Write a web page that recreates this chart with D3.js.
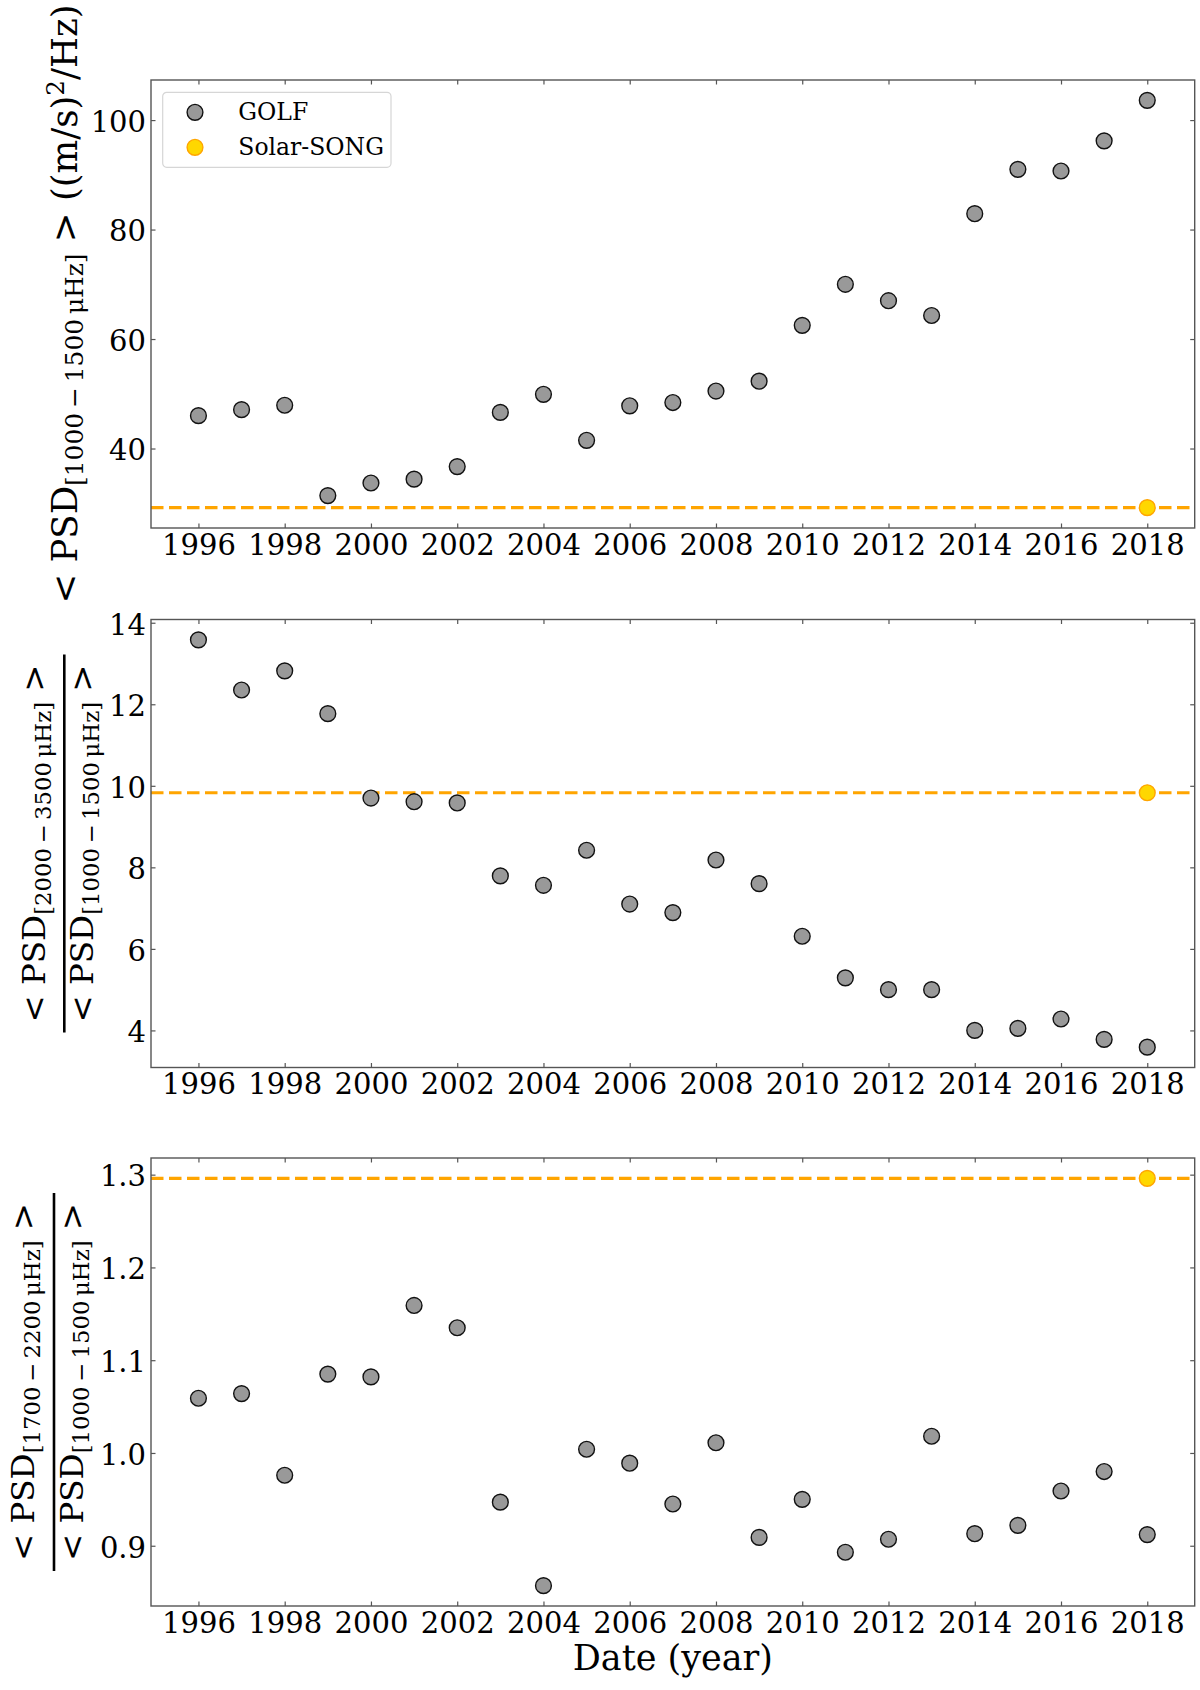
<html>
  <head>
    <meta charset="utf-8">
    <title>GOLF / Solar-SONG PSD</title>
    <script src="https://cdn.jsdelivr.net/npm/d3@7"></script>
  </head>
<style>
  body { margin: 0; background: #fff; }
  text { font-family: "DejaVu Serif", serif; fill: #000; }
  .sans { font-family: "DejaVu Sans", sans-serif; }
</style>
<body>
<div id="fig"></div>
<script>
  // years of the GOLF points
  var years = [1996, 1997, 1998, 1999, 2000, 2001, 2002, 2003, 2004, 2005, 2006, 2007,
               2008, 2009, 2010, 2011, 2012, 2013, 2014, 2015, 2016, 2017, 2018];
  // <PSD> 1000-1500 uHz
  var golfLow = [46.0, 47.1, 47.9, 31.4, 33.7, 34.4, 36.7, 46.6, 49.9, 41.5, 47.8, 48.4,
                 50.5, 52.3, 62.5, 70.0, 67.0, 64.3, 82.9, 91.0, 90.7, 96.2, 103.6];
  // ratio 2000-3500 / 1000-1500
  var golfHigh = [13.58, 12.35, 12.82, 11.77, 9.70, 9.61, 9.58, 7.79, 7.56, 8.42, 7.10, 6.89,
                  8.18, 7.60, 6.31, 5.29, 5.00, 5.00, 4.00, 4.05, 4.28, 3.78, 3.59];
  // ratio 1700-2200 / 1000-1500
  var golfMid = [1.059, 1.064, 0.976, 1.085, 1.082, 1.159, 1.135, 0.947, 0.857, 1.004, 0.989, 0.945,
                 1.011, 0.909, 0.950, 0.893, 0.907, 1.018, 0.913, 0.922, 0.959, 0.980, 0.912];

  var songYear = [2018];
  var songLow = [29.2];
  var songHigh = [9.83];
  var songMid = [1.296];

  var xTicks = [1996, 1998, 2000, 2002, 2004, 2006, 2008, 2010, 2012, 2014, 2016, 2018];
  var lowTicks = [40, 60, 80, 100];
  var highTicks = [4, 6, 8, 10, 12, 14];
  var midTicks = [0.9, 1.0, 1.1, 1.2, 1.3];

  var width = 1200, height = 1690;
  var left = 151, right = 1194.7, ph = 448;
  var pw = right - left;
  var frameColor = "#555";
  var golfFill = "#999999";
  var songFill = "#FFD700";
  var songLine = "#FFA500";
  var tickFont = 29;

  var svg = d3.select("#fig").append("svg")
      .attr("width", width)
      .attr("height", height);

  // matplotlib style 5% margins
  function pad(vals) {
    var e = d3.extent(vals), m = (e[1] - e[0]) * 0.05;
    return [e[0] - m, e[1] + m];
  }

  var x = d3.scaleLinear().domain(pad(years)).range([0, pw]);

  function styleAxis(g) {
    g.select(".domain").remove();
    g.selectAll(".tick line").attr("stroke", frameColor).attr("stroke-width", 1.2);
    g.attr("font-family", "DejaVu Serif").attr("font-size", tickFont);
  }

  function drawPanel(top, golf, song, ticks, fmt) {
    var g = svg.append("g").attr("transform", "translate(" + left + "," + top + ")");
    var y = d3.scaleLinear().domain(pad(golf.concat(song))).range([ph, 0]);

    g.append("g").attr("transform", "translate(0," + ph + ")")
      .call(d3.axisBottom(x).tickValues(xTicks).tickFormat(d3.format("d"))
            .tickSizeInner(-4.5).tickSizeOuter(0).tickPadding(6))
      .call(styleAxis);
    g.append("g")
      .call(d3.axisTop(x).tickValues(xTicks).tickFormat("")
            .tickSizeInner(-4.5).tickSizeOuter(0))
      .call(styleAxis);
    g.append("g")
      .call(d3.axisLeft(y).tickValues(ticks).tickFormat(fmt)
            .tickSizeInner(-4.5).tickSizeOuter(0).tickPadding(5))
      .call(styleAxis)
      .selectAll("text").attr("dy", "0.39em");
    g.append("g").attr("transform", "translate(" + pw + ",0)")
      .call(d3.axisRight(y).tickValues(ticks).tickFormat("")
            .tickSizeInner(-4.5).tickSizeOuter(0))
      .call(styleAxis);

    // Solar-SONG level
    g.selectAll(".songline").data(song).enter().append("line")
      .attr("x1", 0).attr("x2", pw)
      .attr("y1", function(d) { return y(d); })
      .attr("y2", function(d) { return y(d); })
      .attr("stroke", songLine).attr("stroke-width", 3.2)
      .attr("stroke-dasharray", "12.5,5.5");

    g.selectAll(".golf").data(golf).enter().append("circle")
      .attr("cx", function(d, i) { return x(years[i]); })
      .attr("cy", function(d) { return y(d); })
      .attr("r", 7.9)
      .attr("fill", golfFill).attr("stroke", "#111").attr("stroke-width", 1.4);

    g.selectAll(".song").data(song).enter().append("circle")
      .attr("cx", function(d, i) { return x(songYear[i]); })
      .attr("cy", function(d) { return y(d); })
      .attr("r", 7.9)
      .attr("fill", songFill).attr("stroke", songLine).attr("stroke-width", 1.4);

    g.append("rect").attr("width", pw).attr("height", ph)
      .attr("fill", "none").attr("stroke", frameColor).attr("stroke-width", 1.4);
    return g;
  }

  var tops = [80, 619.5, 1158];
  var p1 = drawPanel(tops[0], golfLow, songLow, lowTicks, d3.format("d"));
  drawPanel(tops[1], golfHigh, songHigh, highTicks, d3.format("d"));
  drawPanel(tops[2], golfMid, songMid, midTicks, d3.format(".1f"));

  // <PSD_[band]> written into a text element
  function psd(t, fs, band) {
    var sh = fs * 0.17;
    t.append("tspan").attr("class", "sans").text("<");
    t.append("tspan").text(" PSD");
    t.append("tspan").attr("font-size", fs * 0.7).attr("dy", sh).text("[" + band + "\u2009\u03BCHz]");
    t.append("tspan").attr("class", "sans").attr("dy", -sh).text(" >");
  }

  // panel 1 label
  var fs1 = 35.5;
  var l1 = svg.append("text")
      .attr("transform", "translate(77," + (tops[0] + ph / 2) + ") rotate(-90)")
      .attr("text-anchor", "middle").attr("font-size", fs1);
  psd(l1, fs1, "1000\u2009\u2212\u20091500");
  l1.append("tspan").text(" ((m/s)");
  l1.append("tspan").attr("font-size", fs1 * 0.7).attr("dy", -13).text("2");
  l1.append("tspan").attr("dy", 13).text("/Hz)");

  // fraction labels for panels 2 and 3
  function fracLabel(cx, cy, numBand, fs, numOff, denOff) {
    var g = svg.append("g").attr("transform", "translate(" + cx + "," + cy + ") rotate(-90)");
    var n = g.append("text").attr("text-anchor", "middle").attr("font-size", fs).attr("y", numOff);
    psd(n, fs, numBand);
    var d = g.append("text").attr("text-anchor", "middle").attr("font-size", fs).attr("y", denOff);
    psd(d, fs, "1000\u2009\u2212\u20091500");
    var w = Math.max(n.node().getComputedTextLength(), d.node().getComputedTextLength()) + 20;
    g.append("line").attr("x1", -w / 2).attr("x2", w / 2)
      .attr("stroke", "#000").attr("stroke-width", 2.6);
  }
  fracLabel(64.3, tops[1] + ph / 2, "2000\u2009\u2212\u20093500", 32.5, -19.3, 28.7);
  fracLabel(54, tops[2] + ph / 2, "1700\u2009\u2212\u20092200", 32.5, -20, 29);

  // x label
  svg.append("text").attr("x", left + pw / 2).attr("y", 1670)
    .attr("text-anchor", "middle").attr("font-size", 35)
    .text("Date (year)");

  // legend
  var leg = p1.append("g").attr("transform", "translate(" + (162.7 - left) + "," + (92.3 - 80) + ")");
  leg.append("rect").attr("width", 228.3).attr("height", 75).attr("rx", 4).attr("ry", 4)
    .attr("fill", "#fff").attr("fill-opacity", 0.8)
    .attr("stroke", "#d6d6d6").attr("stroke-width", 1.2);
  var legItems = [
    { name: "GOLF", fill: golfFill, stroke: "#111" },
    { name: "Solar-SONG", fill: songFill, stroke: songLine }
  ];
  var li = leg.selectAll(".li").data(legItems).enter().append("g")
      .attr("transform", function(d, i) { return "translate(0," + (20 + i * 35) + ")"; });
  li.append("circle").attr("cx", 32.3).attr("r", 7.9)
    .attr("fill", function(d) { return d.fill; })
    .attr("stroke", function(d) { return d.stroke; }).attr("stroke-width", 1.4);
  li.append("text").attr("x", 75.6).attr("y", 8).attr("font-size", 23.5)
    .text(function(d) { return d.name; });
</script>
</body>
</html>
